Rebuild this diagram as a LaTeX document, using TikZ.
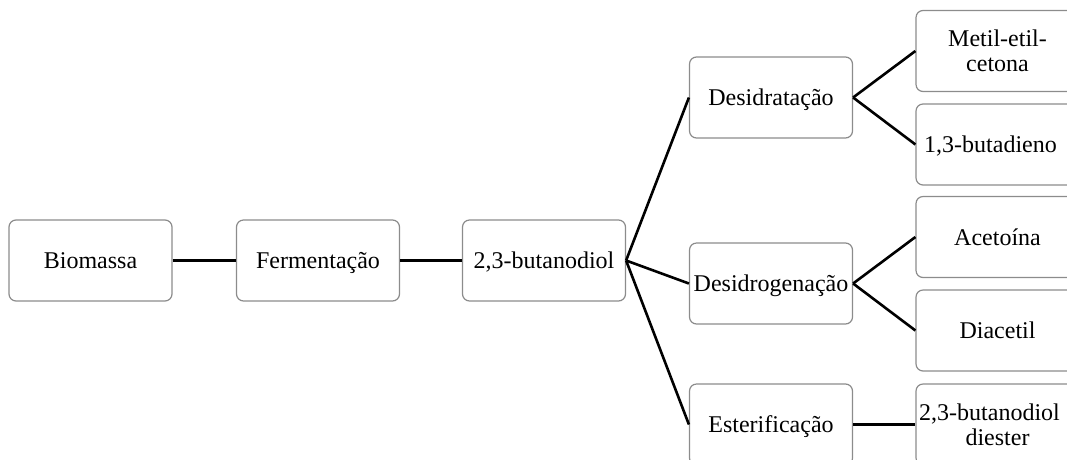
\documentclass[tikz,border=0pt]{standalone}
\usepackage{fontspec}
\setmainfont{Liberation Serif}
\definecolor{boxgray}{RGB}{140,140,140}
\begin{document}
\begin{tikzpicture}[x=1pt,y=-1pt,
  box/.style={draw=boxgray,line width=1.2pt,rounded corners=7pt,fill=white,
    minimum width=163pt,minimum height=81pt,inner sep=0pt,
    font=\fontsize{24}{25}\selectfont,text height=16pt,text depth=0pt,align=center},
  box2/.style={box,text height=41pt},
  link/.style={line width=3pt,black},
  branch/.style={line width=2.6pt,black}]
\useasboundingbox (0,0) rectangle (1067,459);
\clip (0,0) rectangle (1067,459);
\node[box] (bio) at (90.5,260.5) {Biomassa};
\node[box] (fer) at (318,260.5) {Fermentação};
\node[box] (but) at (544,260.5) {2,3-butanodiol};
\node[box] (desid) at (771,97.5) {Desidratação};
\node[box] (desh) at (771,283.5) {Desidrogenação};
\node[box] (ester) at (771,424.5) {Esterificação};
\node[box2] (metil) at (997.5,51) {Metil-etil-\\cetona};
\node[box] (butad) at (997.5,144.5) {\hspace*{-14pt}1,3-butadieno};
\node[box] (aceto) at (997.5,237) {Acetoína};
\node[box] (diac) at (997.5,330.5) {Diacetil};
\node[box2] (diest) at (997.5,424.5) {\hspace*{-16pt}2,3-butanodiol\\diester};
\draw[link] (bio.east) -- (fer.west);
\draw[link] (fer.east) -- (but.west);
\draw[branch] (but.east) -- (desid.west);
\draw[branch] (but.east) -- (desh.west);
\draw[branch] (but.east) -- (ester.west);
\draw[branch] (desid.east) -- (metil.west);
\draw[branch] (desid.east) -- (butad.west);
\draw[branch] (desh.east) -- (aceto.west);
\draw[branch] (desh.east) -- (diac.west);
\draw[link] (ester.east) -- (diest.west);
\end{tikzpicture}
\end{document}
